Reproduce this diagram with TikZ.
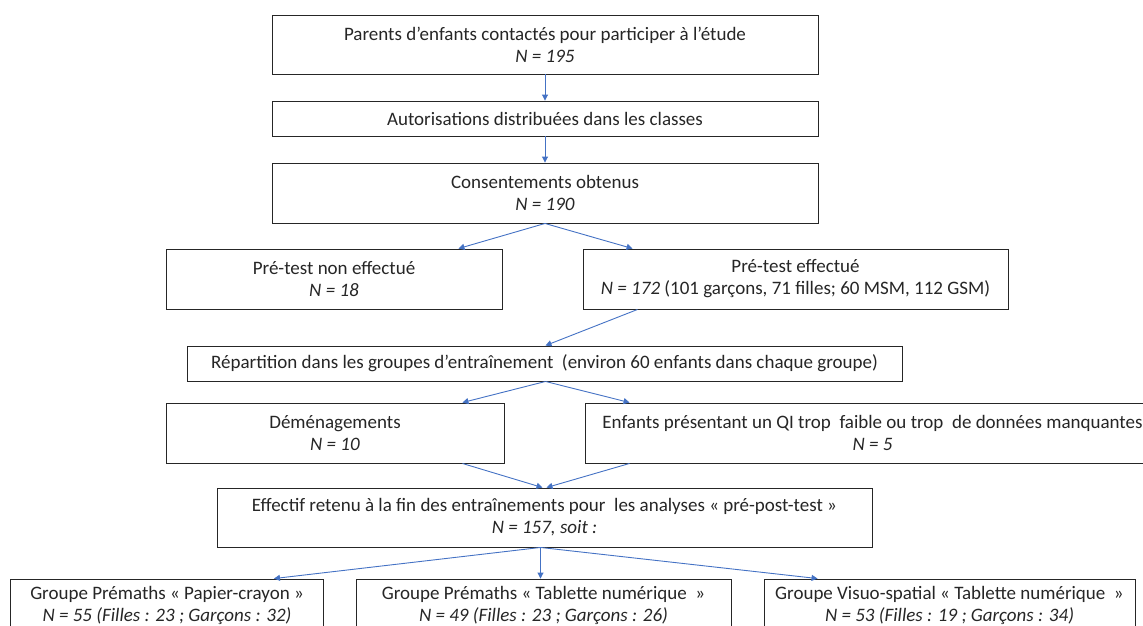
\documentclass[tikz,border=0pt]{standalone}
\usepackage{fontspec}
\setmainfont{Carlito}
\usetikzlibrary{positioning, arrows.meta, calc}

\begin{document}
\begin{tikzpicture}[x=1pt, y=-1pt,
    box/.style={draw=black!85, line width=0.9pt, fill=white, align=center, inner sep=0pt, font=\fontsize{19}{22}\selectfont, text=black!85},
    arrow/.style={-{Triangle[width=6pt,length=6pt]}, draw={rgb,255:red,68;green,114;blue,196}, line width=0.9pt}
]
    \useasboundingbox (0,0) rectangle (1143,625);
    \clip (0,0) rectangle (1143,625);

    % Recrutement
    \node[box, minimum width=546, minimum height=59] (P1) at (545,44.5) {Parents d’enfants contactés pour participer à l’étude\\\textit{N = 195}};
    \node[box, minimum width=546, minimum height=35] (P2) at (545,118.5) {Autorisations distribuées dans les classes};
    \node[box, minimum width=546, minimum height=60] (P3) at (545,193) {Consentements obtenus\\\textit{N = 190}};

    % Pre-test
    \node[box, minimum width=336, minimum height=60] (T0) at (334,279) {Pré-test non effectué\\\textit{N = 18}};
    \node[box, minimum width=425, minimum height=60] (T1) at (795.5,279) {Pré-test effectué\\\textit{N = 172} (101 garçons, 71 filles; 60 MSM, 112 GSM)};

    % Repartition
    \node[box, minimum width=715, minimum height=35] (R) at (544.5,363.5) {Répartition dans les groupes d’entraînement \ (environ 60 enfants dans chaque groupe)};

    % Exclusions
    \node[box, minimum width=338, minimum height=60] (D) at (335,433) {Déménagements\\\textit{N = 10}};
    \node[box, minimum width=575, minimum height=60] (Q) at (872.5,433) {Enfants présentant un QI trop \ faible ou trop \ de données manquantes\\\textit{N = 5}};

    % Effectif final
    \node[box, minimum width=655, minimum height=59] (E) at (544.5,517.5) {Effectif retenu à la fin des entraînements pour \ les analyses « pré-post-test »\\\textit{N = 157, soit :}};

    % Groupes (cut by the lower edge)
    \node[box, minimum width=313, minimum height=52] (G1) at (167,605) {Groupe Prémaths « Papier-crayon »\\\textit{N = 55 (Filles : 23 ; Garçons : 32)}};
    \node[box, minimum width=375, minimum height=52] (G2) at (543.5,605) {Groupe Prémaths « Tablette numérique \ »\\\textit{N = 49 (Filles : 23 ; Garçons : 26)}};
    \node[box, minimum width=371, minimum height=52] (G3) at (949.5,605) {Groupe Visuo-spatial « Tablette numérique \ »\\\textit{N = 53 (Filles : 19 ; Garçons : 34)}};

    % Connectors
    \draw[arrow] (P1) -- (P2);
    \draw[arrow] (P2) -- (P3);
    \draw[arrow] (P3.south) -- ([xshift=-44]T0.north east);
    \draw[arrow] (P3.south) -- ([xshift=50]T1.north west);
    \draw[arrow] ([xshift=55]T1.south west) -- ([xshift=1]R.north);
    \draw[arrow] ([xshift=1]R.south) -- ([xshift=-42]D.north east);
    \draw[arrow] ([xshift=1]R.south) -- ([xshift=45]Q.north west);
    \draw[arrow] ([xshift=-42]D.south east) -- ([xshift=-2]E.north);
    \draw[arrow] ([xshift=45]Q.south west) -- ([xshift=2]E.north);
    \draw[arrow] ([xshift=-4]E.south) -- ([xshift=-50]G1.north east);
    \draw[arrow] ([xshift=-4]E.south) -- ([xshift=-3]G2.north);
    \draw[arrow] ([xshift=-4]E.south) -- ([xshift=54]G3.north west);

\end{tikzpicture}
\end{document}
